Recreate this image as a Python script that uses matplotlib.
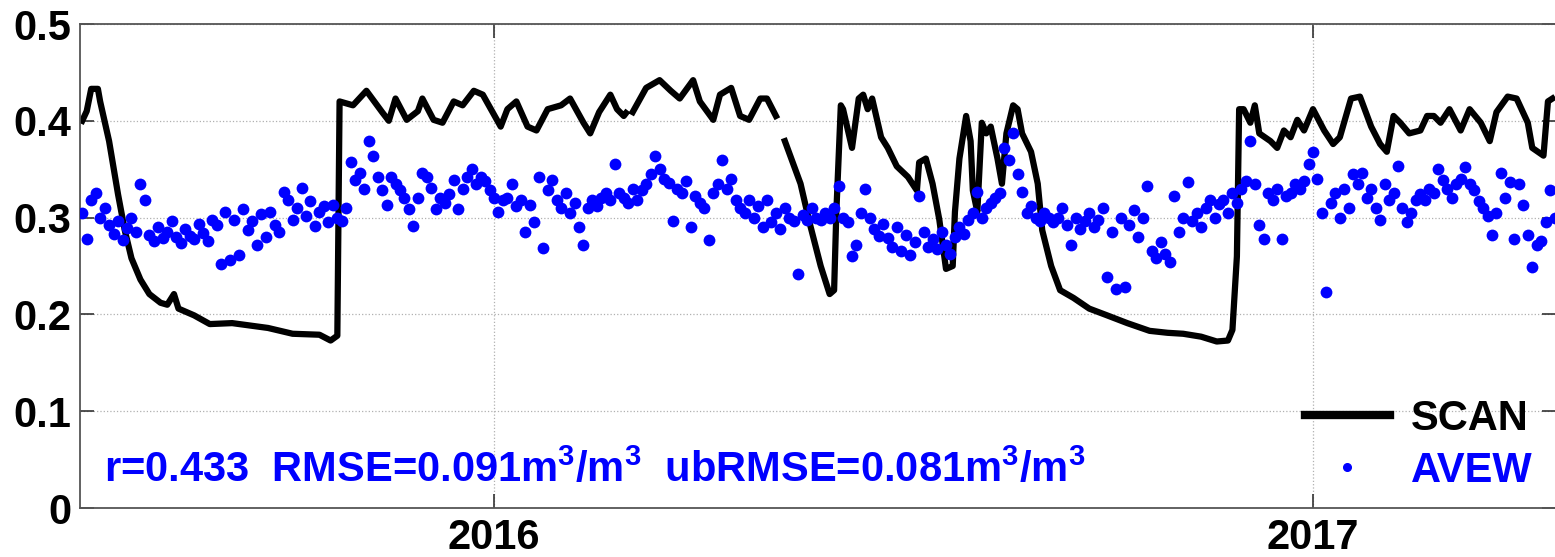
import numpy as np
import pandas as pd
import matplotlib
matplotlib.use('Agg')
import matplotlib.pyplot as plt
from matplotlib.lines import Line2D

plt.rcParams['font.family'] = ['Liberation Sans', 'DejaVu Sans']
plt.rcParams['font.weight'] = 'bold'
plt.rcParams['mathtext.default'] = 'regular'

BASE = pd.Timestamp('2016-01-01')

# SCAN in-situ soil moisture, days counted from 1 Jan 2016 (nan = no data)
scan_day = [-184, -182, -180, -177, -176, -172, -168, -165, -162, -158,
            -154, -149, -146, -143, -141, -134, -127, -117, -101, -90,
            -78, -73, -70, -69, -63, -57, -50, -47, -44, -39,
            -34, -32, -27, -23, -18, -14, -9, -5, 3, 6,
            10, 15, 19, 24, 30, 34, 40, 43, 47, 52,
            55, 58, 59, 60, 62, 68, 74, 79, 83, 89,
            92, 98, 101, 106, 110, 114, 119, 122, 126, 128,
            130, 137, 141, 146, 150, 152, 153, 155, 156, 160,
            163, 165, 167, 169, 173, 176, 180, 185, 189, 190,
            193, 196, 199, 202, 205, 206, 208, 211, 213, 214,
            216, 218, 220, 222, 225, 227, 229, 232, 234, 236,
            240, 243, 245, 249, 253, 259, 266, 274, 283, 293,
            301, 308, 316, 323, 328, 330, 332, 333, 335, 338,
            340, 342, 347, 350, 353, 356, 359, 362, 366, 371,
            375, 378, 383, 387, 392, 396, 399, 402, 405, 409,
            414, 417, 420, 423, 427, 432, 436, 441, 445, 448,
            453, 457, 462, 464, 469, 471, 473]
scan_sm = [0.400, 0.410, 0.433, 0.433, 0.420, 0.379, 0.324, 0.287, 0.258, 0.236,
           0.221, 0.212, 0.210, 0.221, 0.206, 0.199, 0.190, 0.191, 0.186, 0.180,
           0.179, 0.173, 0.178, 0.420, 0.416, 0.431, 0.409, 0.400, 0.423, 0.401,
           0.410, 0.423, 0.401, 0.398, 0.420, 0.416, 0.431, 0.427, 0.394, 0.412,
           0.420, 0.394, 0.390, 0.412, 0.416, 0.423, 0.398, 0.387, 0.409, 0.427,
           0.412, 0.405, 0.408, np.nan, 0.409, 0.434, 0.442, 0.431, 0.423, 0.442,
           0.420, 0.401, 0.427, 0.434, 0.405, 0.401, 0.423, 0.423, 0.405, np.nan,
           0.379, 0.335, 0.295, 0.250, 0.221, 0.225, 0.306, 0.416, 0.412, 0.372,
           0.423, 0.427, 0.412, 0.423, 0.383, 0.372, 0.353, 0.342, 0.328, 0.357,
           0.361, 0.335, 0.298, 0.247, 0.250, 0.306, 0.361, 0.405, 0.379, 0.328,
           0.306, 0.398, 0.387, 0.394, 0.361, 0.335, 0.387, 0.416, 0.412, 0.387,
           0.368, 0.335, 0.287, 0.250, 0.225, 0.217, 0.206, 0.199, 0.191, 0.183,
           0.181, 0.180, 0.177, 0.172, 0.173, 0.184, 0.260, 0.412, 0.412, 0.398,
           0.416, 0.387, 0.379, 0.372, 0.390, 0.383, 0.401, 0.390, 0.412, 0.390,
           0.376, 0.383, 0.423, 0.425, 0.394, 0.376, 0.368, 0.405, 0.398, 0.387,
           0.390, 0.405, 0.405, 0.398, 0.412, 0.390, 0.412, 0.398, 0.379, 0.409,
           0.425, 0.423, 0.398, 0.372, 0.364, 0.420, 0.423]

# AVEW retrievals, one every 2 days starting 1 Jul 2015
avew_start = '2015-07-01'
avew_sm = [
    0.305, 0.278, 0.318, 0.325, 0.300, 0.310, 0.292, 0.283, 0.296, 0.277, 0.289, 0.300, 0.285, 0.335, 0.318,
    0.282, 0.276, 0.290, 0.279, 0.285, 0.296, 0.280, 0.274, 0.288, 0.281, 0.278, 0.293, 0.284, 0.276, 0.298,
    0.292, 0.252, 0.306, 0.256, 0.298, 0.261, 0.309, 0.287, 0.296, 0.272, 0.304, 0.280, 0.306, 0.292, 0.285,
    0.326, 0.318, 0.298, 0.310, 0.331, 0.302, 0.317, 0.291, 0.306, 0.312, 0.295, 0.313, 0.300, 0.296, 0.310,
    0.357, 0.339, 0.346, 0.330, 0.379, 0.364, 0.342, 0.328, 0.313, 0.342, 0.335, 0.328, 0.320, 0.309, 0.291,
    0.320, 0.346, 0.342, 0.331, 0.309, 0.320, 0.315, 0.324, 0.339, 0.309, 0.330, 0.342, 0.350, 0.335, 0.342,
    0.338, 0.328, 0.320, 0.306, 0.318, 0.320, 0.335, 0.312, 0.318, 0.285, 0.313, 0.295, 0.342, 0.269, 0.328,
    0.339, 0.318, 0.310, 0.325, 0.305, 0.315, 0.290, 0.272, 0.310, 0.318, 0.312, 0.320, 0.325, 0.318, 0.355,
    0.325, 0.320, 0.315, 0.330, 0.318, 0.328, 0.335, 0.345, 0.364, 0.350, 0.340, 0.336, 0.297, 0.330, 0.325,
    0.338, 0.290, 0.322, 0.315, 0.310, 0.277, 0.325, 0.335, 0.359, 0.330, 0.340, 0.318, 0.310, 0.305, 0.318,
    0.300, 0.312, 0.290, 0.318, 0.295, 0.305, 0.288, 0.310, 0.300, 0.296, 0.242, 0.303, 0.298, 0.310, 0.300,
    0.298, 0.305, 0.300, 0.310, 0.333, 0.300, 0.295, 0.260, 0.272, 0.305, 0.330, 0.300, 0.288, 0.281, 0.293,
    0.279, 0.270, 0.290, 0.265, 0.282, 0.261, 0.275, 0.322, 0.285, 0.270, 0.278, 0.268, 0.285, 0.272, 0.262,
    0.280, 0.290, 0.283, 0.298, 0.305, 0.326, 0.300, 0.310, 0.315, 0.320, 0.325, 0.372, 0.360, 0.387, 0.345,
    0.326, 0.305, 0.312, 0.300, 0.296, 0.305, 0.300, 0.295, 0.300, 0.310, 0.292, 0.272, 0.300, 0.288, 0.296,
    0.305, 0.290, 0.298, 0.310, 0.239, 0.285, 0.226, 0.300, 0.228, 0.292, 0.308, 0.280, 0.300, 0.333, 0.265,
    0.258, 0.275, 0.262, 0.254, 0.322, 0.285, 0.300, 0.337, 0.296, 0.305, 0.290, 0.310, 0.318, 0.300, 0.314,
    0.318, 0.305, 0.325, 0.315, 0.330, 0.338, 0.379, 0.335, 0.292, 0.278, 0.325, 0.318, 0.330, 0.278, 0.322,
    0.325, 0.335, 0.330, 0.338, 0.355, 0.368, 0.340, 0.305, 0.223, 0.315, 0.325, 0.300, 0.330, 0.310, 0.345,
    0.335, 0.346, 0.320, 0.330, 0.310, 0.298, 0.335, 0.318, 0.325, 0.353, 0.310, 0.295, 0.305, 0.318, 0.324,
    0.318, 0.330, 0.325, 0.350, 0.339, 0.330, 0.320, 0.335, 0.340, 0.352, 0.335, 0.328, 0.317, 0.310, 0.302,
    0.282, 0.305, 0.346, 0.320, 0.337, 0.278, 0.335, 0.313, 0.282, 0.249, 0.272, 0.276, 0.295, 0.328, 0.300,
]

stats = 'r=0.433  RMSE=0.091m$^3$/m$^3$  ubRMSE=0.081m$^3$/m$^3$'
year_ticks = ['2016-01-01', '2017-01-01']
year_labels = ['2016', '2017']
sm_ticks = [0, 0.1, 0.2, 0.3, 0.4, 0.5]
sm_labels = ['0', '0.1', '0.2', '0.3', '0.4', '0.5']

scan_t = BASE + pd.to_timedelta(scan_day, unit='D')
avew_t = pd.date_range(avew_start, periods=len(avew_sm), freq='2D')

FS = 30

fig = plt.figure(figsize=(15.55, 5.57), dpi=100)
ax = fig.add_axes([80 / 1555, 49 / 557, 1476 / 1555, 484 / 557])

ax.plot(scan_t, scan_sm, color='black', lw=4.5, zorder=2)
ax.plot(avew_t, avew_sm, 'o', color='#0000ff', ms=8.5, mec='none', zorder=3)

ax.set_xlim(BASE - pd.Timedelta(days=185), BASE + pd.Timedelta(days=474.6))
ax.set_ylim(0, 0.5)
ax.set_xticks(pd.to_datetime(year_ticks))
ax.set_xticklabels(year_labels)
ax.set_yticks(sm_ticks)
ax.set_yticklabels(sm_labels)

ax.grid(True, linestyle=':', color='#b0b0b0', lw=0.9)
ax.set_axisbelow(True)
ax.tick_params(direction='in', length=10, width=1.2, color='#333333',
               top=True, right=True, labelsize=FS)
ax.tick_params(axis='x', pad=7)
ax.tick_params(axis='y', pad=6)
for s in ax.spines.values():
    s.set_color('#555555')
    s.set_linewidth(1.3)

ax.text(0.016, 0.054, stats, transform=ax.transAxes, color='#0000ff',
        fontsize=FS, fontweight='bold', va='baseline', ha='left')

handles = [Line2D([], [], color='black', lw=6),
           Line2D([], [], color='#0000ff', marker='o', ls='none', ms=5.5)]
leg = ax.legend(handles, ['SCAN', 'AVEW'], loc='lower right',
                bbox_to_anchor=(0.984, 0.035), frameon=False, fontsize=FS,
                handlelength=2.05, handletextpad=0.5, labelspacing=0.3,
                borderpad=0, borderaxespad=0)
for txt, c in zip(leg.get_texts(), ['black', '#0000ff']):
    txt.set_color(c)

fig.savefig('out.png', dpi=100, facecolor='white')
